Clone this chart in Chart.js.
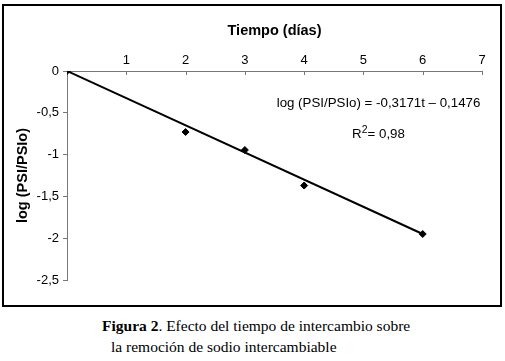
<!DOCTYPE html>
<html>
<head>
<meta charset="utf-8">
<script src="https://cdn.jsdelivr.net/npm/chart.js@4"></script>
<style>
    body { margin: 0; background: #fff; }
    #marco { position: absolute; left: 2px; top: 4px; width: 500px; height: 303px; box-sizing: border-box; border: 2px solid #000; }
    #grafico { position: absolute; left: 0; top: 0; }
    .pie { position: absolute; font-family: "Liberation Serif", "Times New Roman", serif; font-size: 15.5px; color: #000; white-space: nowrap; }
</style>
</head>
<body>
<div id="marco"></div>
<canvas id="grafico" width="505" height="310"></canvas>
<div class="pie" style="left:102px; top:317px;"><b>Figura 2</b>. Efecto del tiempo de intercambio sobre</div>
<div class="pie" style="left:111px; top:338px;">la remoción de sodio intercambiable</div>
<script>
// datos
const tiempos = [0, 2, 3, 4, 6];
const logPSI = [0, -0.73, -0.945, -1.37, -1.95];
const tendenciaX = [0, 6];
const tendenciaY = [0, -1.95];
const ticksX = [1, 2, 3, 4, 5, 6, 7];
const ecuacion = 'log (PSI/PSIo) = -0,3171t \u2013 0,1476';
const r2 = '0,98';

const puntos = tiempos.map((t, i) => ({ x: t, y: logPSI[i] }));
const linea = tendenciaX.map((t, i) => ({ x: t, y: tendenciaY[i] }));

const fuente = 'Arial, "Liberation Sans"';

// marcas del eje x hacia adentro y texto de la ecuacion
const extras = {
    id: 'extras',
    afterDraw(chart) {
        const ctx = chart.ctx;
        const sx = chart.scales.x;
        const sy = chart.scales.y;
        const y0 = sy.getPixelForValue(0);
        ctx.save();
        ctx.strokeStyle = '#777';
        ctx.lineWidth = 1;
        ticksX.forEach(t => {
            const px = Math.round(sx.getPixelForValue(t)) + 0.5;
            ctx.beginPath();
            ctx.moveTo(px, y0);
            ctx.lineTo(px, y0 + 4);
            ctx.stroke();
        });
        ctx.fillStyle = '#000';
        ctx.font = '13.3px ' + fuente;
        ctx.textAlign = 'center';
        ctx.textBaseline = 'middle';
        ctx.fillText(ecuacion, 378.5, 103);
        // R2 con superindice
        const a = 'R', b = '2', c = '= ' + r2;
        const wa = ctx.measureText(a).width;
        ctx.font = '10.5px ' + fuente;
        const wb = ctx.measureText(b).width;
        ctx.font = '13.3px ' + fuente;
        const wc = ctx.measureText(c).width;
        let x = 378.5 - (wa + wb + wc) / 2;
        ctx.textAlign = 'left';
        ctx.fillText(a, x, 134);
        x += wa;
        ctx.font = '10.5px ' + fuente;
        ctx.fillText(b, x, 130);
        x += wb;
        ctx.font = '13.3px ' + fuente;
        ctx.fillText(c, x, 134);
        ctx.restore();
    }
};

new Chart(document.getElementById('grafico'), {
    type: 'scatter',
    data: {
        datasets: [{
            label: 'tendencia',
            data: linea,
            showLine: true,
            borderColor: '#000',
            borderWidth: 2,
            pointRadius: 0
        }, {
            label: 'log (PSI/PSIo)',
            data: puntos,
            pointStyle: 'rectRot',
            pointRadius: 3.5,
            backgroundColor: '#000',
            borderColor: '#000'
        }]
    },
    options: {
        responsive: false,
        animation: false,
        layout: { padding: { left: 0, top: 0, right: 23, bottom: 30 } },
        plugins: { legend: { display: false }, tooltip: { enabled: false } },
        scales: {
            x: {
                type: 'linear',
                position: 'top',
                min: 0,
                max: 7,
                afterFit: s => { s.height = 71; },
                grid: { drawOnChartArea: false, drawTicks: false },
                border: { color: '#777', width: 1 },
                ticks: {
                    stepSize: 1,
                    padding: 3,
                    color: '#000',
                    font: { family: fuente, size: 13 },
                    callback: v => (v === 0 ? '' : v)
                },
                title: {
                    display: true,
                    text: 'Tiempo (días)',
                    color: '#000',
                    font: { family: fuente, size: 14.5, weight: 'bold' },
                    padding: { top: 22, bottom: 0 }
                }
            },
            y: {
                min: -2.5,
                max: 0,
                afterFit: s => { s.width = 67; },
                grid: { drawOnChartArea: false, tickLength: 4, color: '#777' },
                border: { color: '#777', width: 1 },
                ticks: {
                    stepSize: 0.5,
                    padding: 4,
                    color: '#000',
                    font: { family: fuente, size: 13 },
                    callback: v => String(v).replace('.', ',')
                },
                title: {
                    display: true,
                    text: 'log (PSI/PSIo)',
                    color: '#000',
                    font: { family: fuente, size: 14.5, weight: 'bold' },
                    padding: { top: 14, bottom: 0 }
                }
            }
        }
    },
    plugins: [extras]
});
</script>
</body>
</html>
